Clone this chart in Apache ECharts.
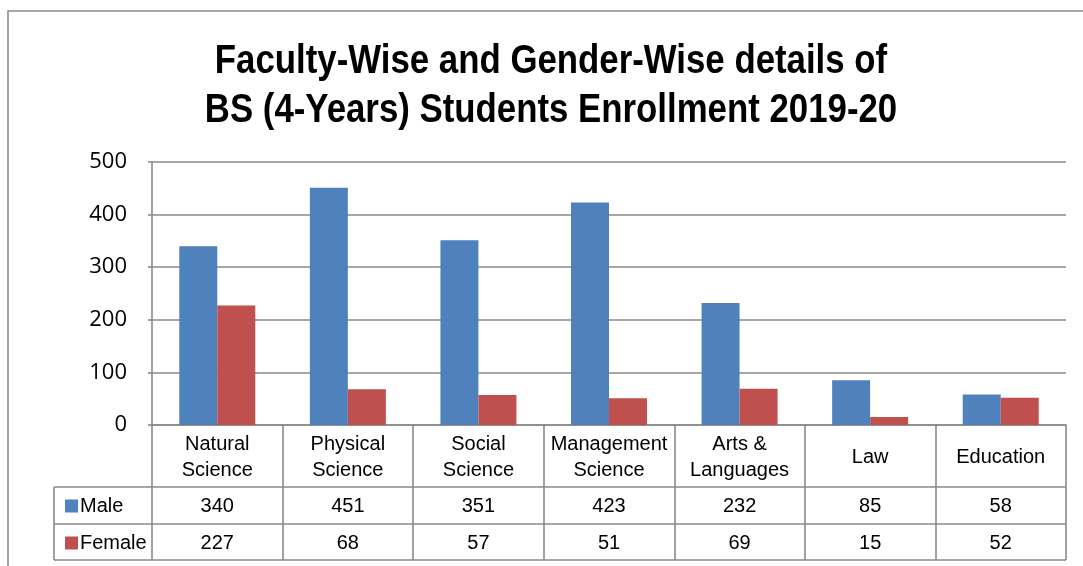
<!DOCTYPE html>
<html>
<head>
<meta charset="utf-8">
<script src="https://cdn.jsdelivr.net/npm/echarts@6/dist/echarts.min.js"></script>
<style>html,body{margin:0;padding:0;background:#fff}#c{width:1083px;height:566px}</style>
</head>
<body>
<div id="c"></div>
<script>
const categories = ['Natural\nScience', 'Physical\nScience', 'Social\nScience', 'Management\nScience', 'Arts &\nLanguages', 'Law', 'Education'];
const male = [340, 451, 351, 423, 232, 85, 58];
const female = [227, 68, 57, 51, 69, 15, 52];
const seriesNames = ['Male', 'Female'];
const yTicks = [0, 100, 200, 300, 400, 500];

const GL = 152, GT = 162, GR = 1066, GB = 425;
const ROW1 = 487, ROW2 = 524, ROW3 = 560, LEGX = 54;
const gridColor = '#8a8a8a';
const narrow = '"Liberation Sans", "Arial", sans-serif';

const chart = echarts.init(document.getElementById('c'));
const lineStyle = {stroke: gridColor, lineWidth: 1.6};
const graphics = [
  {type: 'rect', shape: {x: 8, y: 11, width: 1200, height: 700}, style: {fill: 'none', stroke: '#8f8f8f', lineWidth: 1.6}, z: 0},
  {type: 'line', shape: {x1: LEGX, y1: ROW1, x2: GR, y2: ROW1}, style: lineStyle},
  {type: 'line', shape: {x1: LEGX, y1: ROW2, x2: GR, y2: ROW2}, style: lineStyle},
  {type: 'line', shape: {x1: LEGX, y1: ROW3, x2: GR, y2: ROW3}, style: lineStyle},
  {type: 'line', shape: {x1: LEGX, y1: ROW1, x2: LEGX, y2: ROW3}, style: lineStyle},
  {type: 'text', x: 551, y: 37, scaleX: 0.87, style: {text: 'Faculty-Wise and Gender-Wise details of\nBS (4-Years) Students Enrollment 2019-20', font: 'bold 40px ' + narrow, fill: '#000', textAlign: 'center', lineHeight: 49}}
];

chart.setOption({
  animation: false,
  grid: {left: GL, top: GT, right: 1083 - GR, bottom: 566 - GB},
  legend: {
    data: seriesNames, orient: 'vertical', left: 60, top: 489,
    itemWidth: 13, itemHeight: 13, itemGap: 13, icon: 'rect',
    textStyle: {fontFamily: narrow, fontSize: 20, color: '#000', lineHeight: 24, padding: [0, 0, 0, -3]}
  },
  xAxis: [
    {type: 'category', data: categories, position: 'bottom',
     axisLine: {show: true, lineStyle: {color: gridColor, width: 1.6}},
     axisTick: {show: true, length: ROW3 - GB, lineStyle: {color: gridColor, width: 1.6}},
     axisLabel: {margin: (ROW1 - GB) / 2 + 1.5, verticalAlign: 'middle', fontFamily: narrow, fontSize: 20, color: '#000', lineHeight: 26, interval: 0}},
    {type: 'category', data: male.map(String), position: 'bottom',
     axisLine: {show: false}, axisTick: {show: false},
     axisLabel: {margin: (ROW1 + ROW2) / 2 - GB + 1, verticalAlign: 'middle', fontFamily: narrow, fontSize: 20, color: '#000', interval: 0}},
    {type: 'category', data: female.map(String), position: 'bottom',
     axisLine: {show: false}, axisTick: {show: false},
     axisLabel: {margin: (ROW2 + ROW3) / 2 - GB + 1, verticalAlign: 'middle', fontFamily: narrow, fontSize: 20, color: '#000', interval: 0}}
  ],
  yAxis: {
    type: 'value', min: yTicks[0], max: yTicks[yTicks.length - 1], interval: 100,
    axisLine: {show: true, lineStyle: {color: gridColor, width: 1.6}},
    axisTick: {show: true, length: 4, lineStyle: {color: gridColor, width: 1.6}},
    splitLine: {show: true, lineStyle: {color: gridColor, width: 1.6}},
    axisLabel: {margin: 25, fontFamily: '"Open Sans", "Noto Sans", sans-serif', fontSize: 22, color: '#000'}
  },
  series: [
    {name: seriesNames[0], type: 'bar', data: male, barWidth: 38, barGap: '0%', itemStyle: {color: '#4F81BD'}},
    {name: seriesNames[1], type: 'bar', data: female, barWidth: 38, barGap: '0%', itemStyle: {color: '#C0504D'}}
  ],
  graphic: graphics
});
</script>
</body>
</html>
